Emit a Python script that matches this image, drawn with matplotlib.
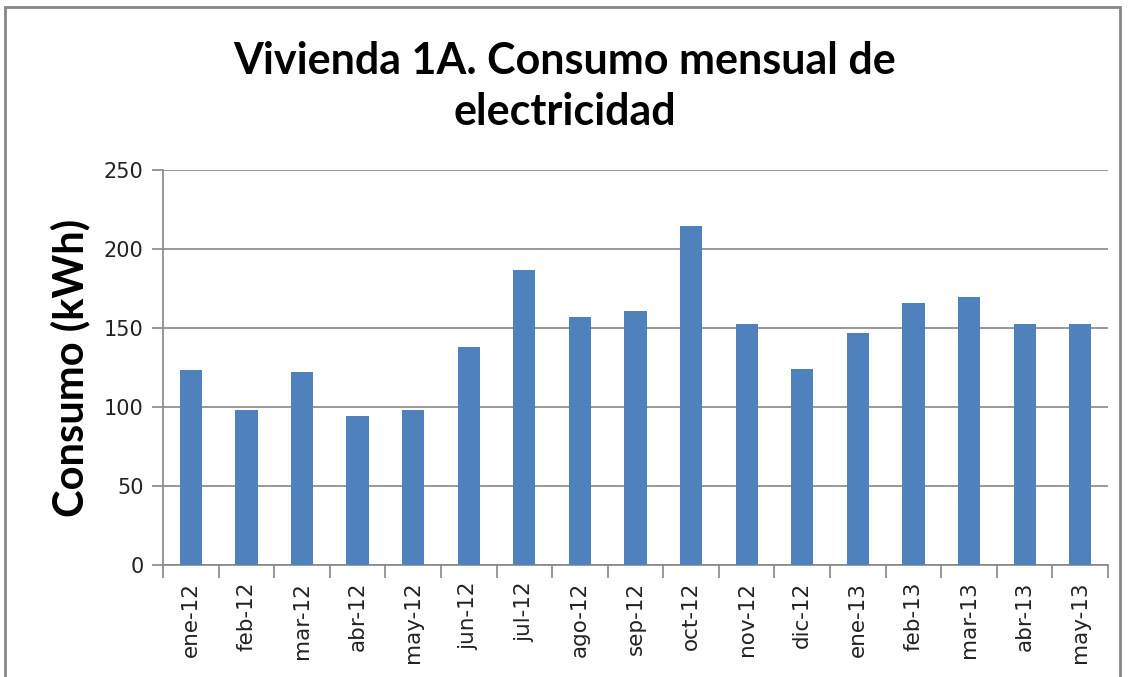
import matplotlib.pyplot as plt
import numpy as np
from matplotlib.patches import Rectangle

meses = ["ene-12", "feb-12", "mar-12", "abr-12", "may-12", "jun-12", "jul-12",
         "ago-12", "sep-12", "oct-12", "nov-12", "dic-12", "ene-13", "feb-13",
         "mar-13", "abr-13", "may-13"]
consumo = [123.6, 98.3, 122.4, 94.5, 98.3, 138.2, 186.9, 157.2, 161.0, 214.8,
           152.7, 124.3, 147.0, 166.0, 169.8, 152.7, 152.7]
y_ticks = [0, 50, 100, 150, 200, 250]

gris = "#868686"
azul = "#4f81bd"

fig = plt.figure(figsize=(11.29, 6.77), dpi=100)
ax = fig.add_axes([0.1444, 0.1654, 0.9814 - 0.1444, 0.7489 - 0.1654])

x = np.arange(len(meses))
ax.bar(x, consumo, width=0.4, color=azul, zorder=3)

ax.set_xlim(-0.5, len(meses) - 0.5)
ax.set_ylim(0, 250)
ax.set_yticks(y_ticks)
ax.set_yticklabels([str(v) for v in y_ticks], fontsize=15, color="#222222")
ax.yaxis.grid(True, color=gris, linewidth=1.2, zorder=0)

# etiquetas centradas, marcas entre categorias
ax.set_xticks(x)
ax.set_xticklabels(meses, rotation=90, fontsize=15.5, color="#222222")
ax.tick_params(axis="x", length=0, pad=12)
ax.set_xticks(np.arange(-0.5, len(meses), 1), minor=True)
ax.tick_params(axis="x", which="minor", length=9, color=gris, width=1.2)
ax.tick_params(axis="y", length=8, color=gris, width=1.2, pad=6)

for s in ["top", "right"]:
    ax.spines[s].set_visible(False)
for s in ["left", "bottom"]:
    ax.spines[s].set_color(gris)
    ax.spines[s].set_linewidth(1.2)

ax.set_ylabel("Consumo (kWh)", fontsize=30, fontweight="bold", family="Lato",
              labelpad=10)

fig.text(0.5, 0.872, "Vivienda 1A. Consumo mensual de\nelectricidad",
         ha="center", va="center", fontsize=31, fontweight="bold",
         family="Lato", linespacing=1.32)

# borde del area del grafico
fig.patches.append(Rectangle((5 / 1129, -0.01), 1115 / 1129, 1 - 7 / 677 + 0.01,
                             transform=fig.transFigure, fill=False,
                             edgecolor=gris, linewidth=2))

fig.savefig("out.png", dpi=100)
